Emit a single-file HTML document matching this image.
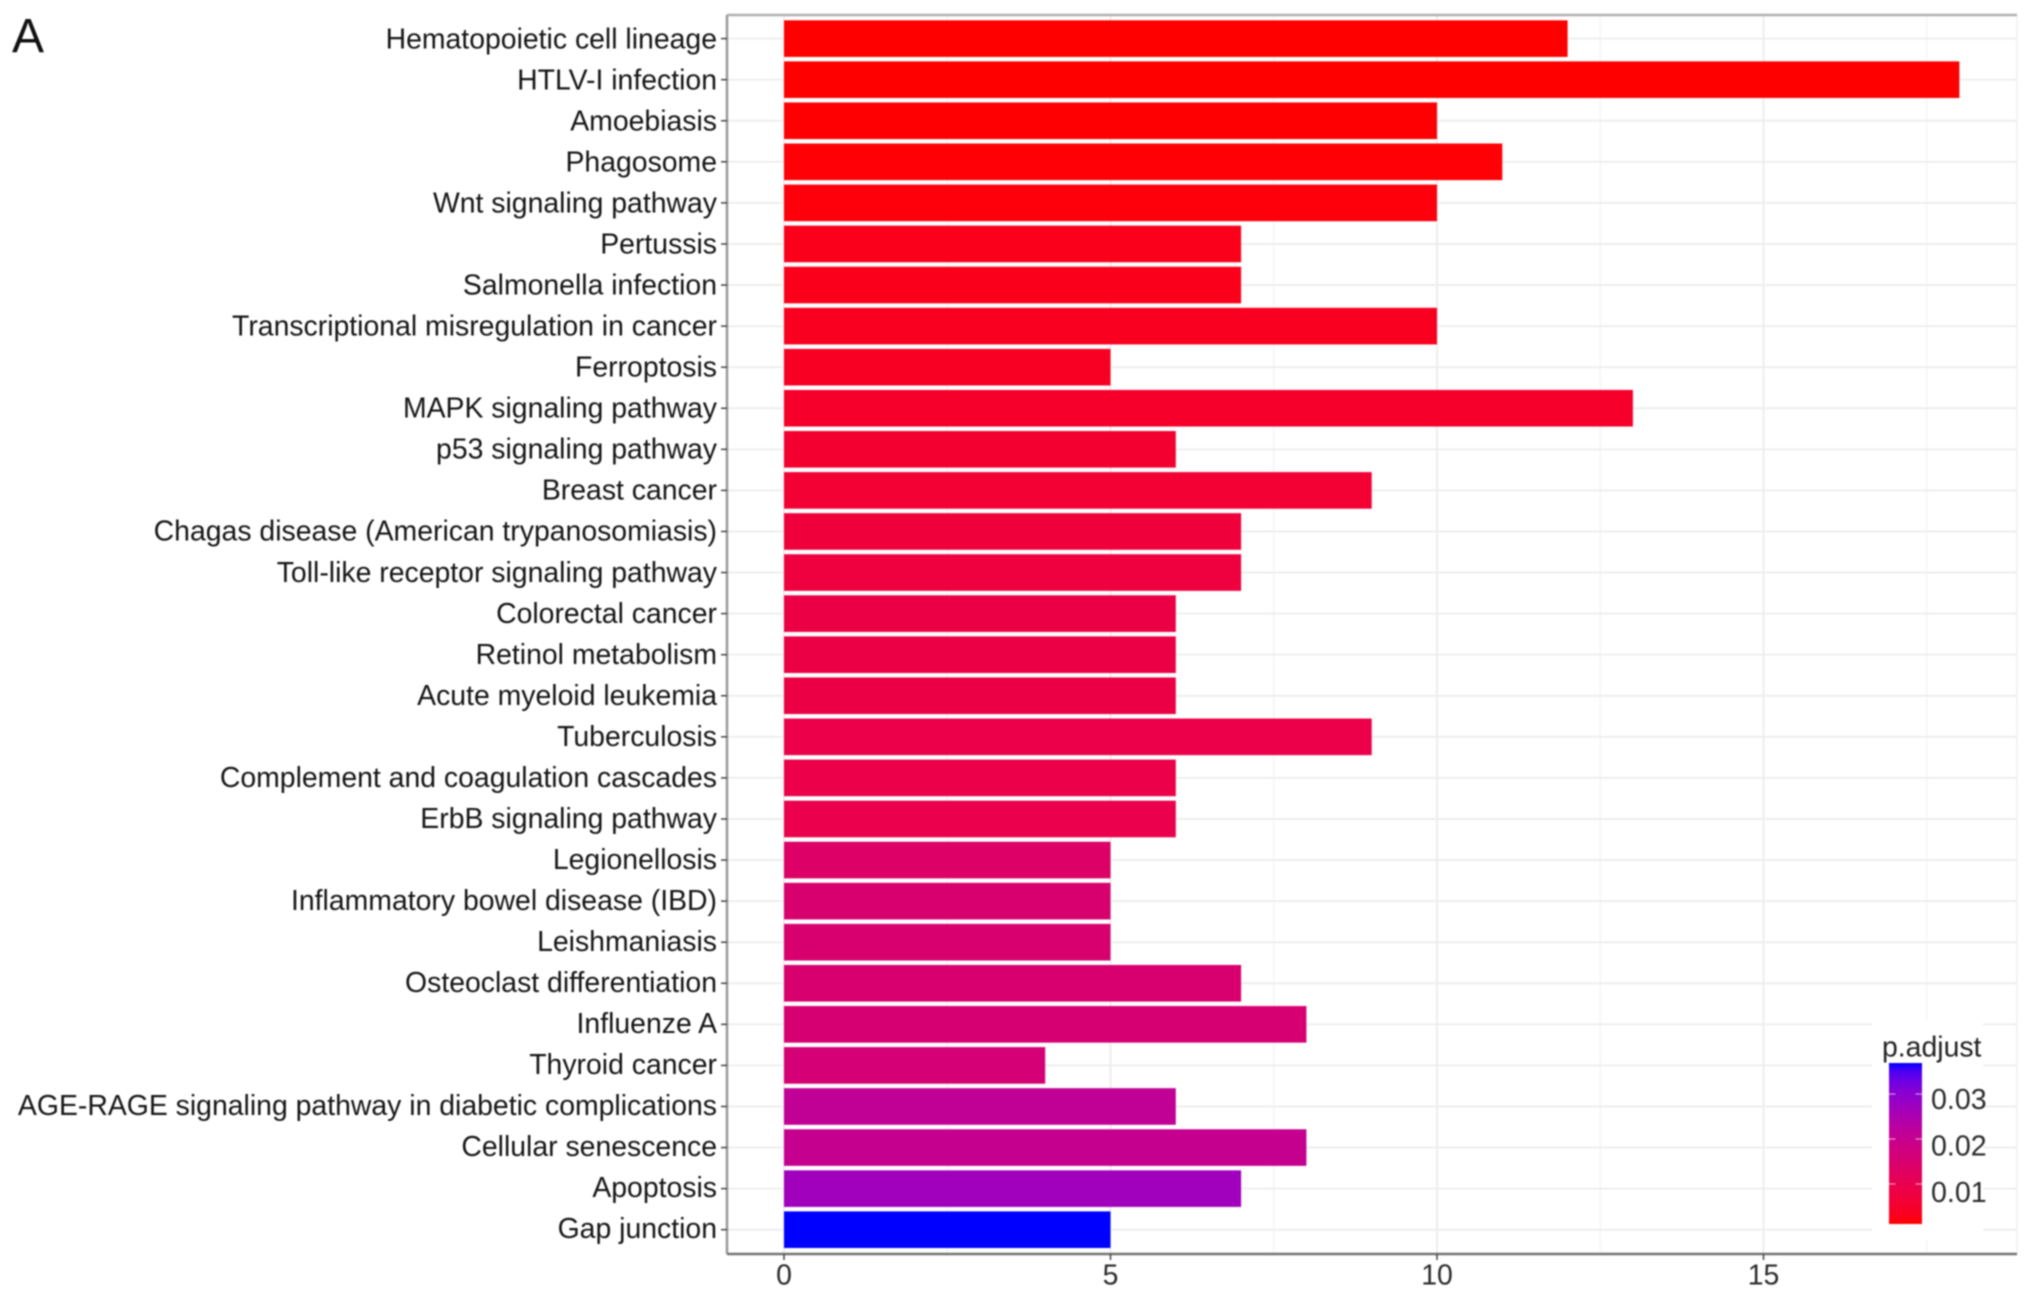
<!DOCTYPE html>
<html>
<head>
<meta charset="utf-8">
<title>KEGG enrichment bar chart</title>
<style>
html,body{margin:0;padding:0;background:#fff;width:2032px;height:1298px;overflow:hidden}
svg{display:block;filter:blur(0.85px)}
text{font-family:"Liberation Sans",Arial,sans-serif}
</style>
</head>
<body>
<svg id="chart" width="2032" height="1298" viewBox="0 0 2032 1298" xmlns="http://www.w3.org/2000/svg">
<defs><linearGradient id="legend-gradient" x1="0" y1="1" x2="0" y2="0"></linearGradient></defs>
<text x="12" y="52" font-size="48" fill="#111">A</text>
</svg>
<script>
var categories = ["Hematopoietic cell lineage","HTLV-I infection","Amoebiasis","Phagosome","Wnt signaling pathway","Pertussis","Salmonella infection","Transcriptional misregulation in cancer","Ferroptosis","MAPK signaling pathway","p53 signaling pathway","Breast cancer","Chagas disease (American trypanosomiasis)","Toll-like receptor signaling pathway","Colorectal cancer","Retinol metabolism","Acute myeloid leukemia","Tuberculosis","Complement and coagulation cascades","ErbB signaling pathway","Legionellosis","Inflammatory bowel disease (IBD)","Leishmaniasis","Osteoclast differentiation","Influenze A","Thyroid cancer","AGE-RAGE signaling pathway in diabetic complications","Cellular senescence","Apoptosis","Gap junction"];
var counts = [12,18,10,11,10,7,7,10,5,13,6,9,7,7,6,6,6,9,6,6,5,5,5,7,8,4,6,8,7,5];
var pAdjust = [0.0011,0.0011,0.0012,0.0014,0.0018,0.003,0.003,0.0035,0.004,0.0048,0.0055,0.006,0.007,0.0075,0.0085,0.0085,0.0085,0.009,0.009,0.0095,0.0135,0.015,0.015,0.015,0.0155,0.016,0.021,0.02,0.027,0.0369];
var xTicks = [0,5,10,15];
var xMinorTicks = [2.5,7.5,12.5,17.5];
var legendTicks = [0.01,0.02,0.03];
var legendLabels = ["0.01","0.02","0.03"];
var pMin = 0.0011;
var pMax = 0.0369;

var svg = document.getElementById('chart');
var NS = 'http://www.w3.org/2000/svg';
var panel = {left:727, right:2017, top:15, bottom:1254};
function xScale(v){ return 784 + v * 65.3; }
function yScale(i){ return 38.6 + i * (1229.7 - 38.6) / (categories.length - 1); }
function legendY(p){ return 1224 - (p - pMin) / (pMax - pMin) * 161; }
function make(tag, attrs, parent){
  var el = document.createElementNS(NS, tag);
  for (var k in attrs) el.setAttribute(k, attrs[k]);
  (parent || svg).appendChild(el);
  return el;
}
function rgb2lab(c){
  var r = c.map(function(v){ v/=255; return v>0.04045?Math.pow((v+0.055)/1.055,2.4):v/12.92; });
  var X=(0.4124*r[0]+0.3576*r[1]+0.1805*r[2])/0.95047, Y=0.2126*r[0]+0.7152*r[1]+0.0722*r[2], Z=(0.0193*r[0]+0.1192*r[1]+0.9505*r[2])/1.08883;
  var f=function(t){return t>0.008856?Math.cbrt(t):7.787*t+16/116;};
  return [116*f(Y)-16,500*(f(X)-f(Y)),200*(f(Y)-f(Z))];
}
function lab2hex(l){
  var fy=(l[0]+16)/116, fx=fy+l[1]/500, fz=fy-l[2]/200;
  var g=function(t){return t>0.2069?t*t*t:(t-16/116)/7.787;};
  var X=g(fx)*0.95047, Y=g(fy), Z=g(fz)*1.08883;
  var r=[3.2406*X-1.5372*Y-0.4986*Z,-0.9689*X+1.8758*Y+0.0415*Z,0.0557*X-0.204*Y+1.057*Z];
  return '#'+r.map(function(v){
    v=Math.max(0,Math.min(1,v));
    v=v>0.0031308?1.055*Math.pow(v,1/2.4)-0.055:12.92*v;
    var h=Math.round(v*255).toString(16);
    return h.length<2?'0'+h:h;
  }).join('');
}
var labLow = rgb2lab([255,0,0]);
var labHigh = rgb2lab([0,0,255]);
function fillScale(p){
  var t = Math.max(0, Math.min(1, (p - pMin) / (pMax - pMin)));
  return lab2hex([0,1,2].map(function(i){ return labLow[i] + (labHigh[i] - labLow[i]) * t; }));
}

// background grid
xMinorTicks.forEach(function(v){
  var el = make('line',{x1:xScale(v),x2:xScale(v),y1:panel.top,y2:panel.bottom,stroke:'#f4f4f4','stroke-width':1.2});
  
  
});
xTicks.forEach(function(v){
  var el = make('line',{x1:xScale(v),x2:xScale(v),y1:panel.top,y2:panel.bottom,stroke:'#eeeeee','stroke-width':2});
  
  
});
categories.forEach(function(c,i){
  var el = make('line',{x1:panel.left,x2:panel.right,y1:yScale(i),y2:yScale(i),stroke:'#eeeeee','stroke-width':2});
  
  
});

// bars
categories.forEach(function(c,i){
  var bar = make('rect',{x:xScale(0),y:yScale(i)-18.3,width:xScale(counts[i])-xScale(0),height:36.6,fill:fillScale(pAdjust[i])});
  
  
});

// panel border
var borderRight = make('line',{x1:panel.right,x2:panel.right,y1:panel.top,y2:panel.bottom,stroke:'#f1f1f1','stroke-width':1.5});


var borderTop = make('line',{x1:panel.left,x2:panel.right,y1:panel.top,y2:panel.top,stroke:'#b0b0b0','stroke-width':2.5});


var borderLeft = make('line',{x1:panel.left,x2:panel.left,y1:panel.top,y2:panel.bottom,stroke:'#9a9a9a','stroke-width':2.5});


var borderBottom = make('line',{x1:panel.left,x2:panel.right,y1:panel.bottom,y2:panel.bottom,stroke:'#737373','stroke-width':2.5});



// y axis ticks and labels
categories.forEach(function(c,i){
  var tick = make('line',{x1:panel.left-6,x2:panel.left,y1:yScale(i),y2:yScale(i),stroke:'#444','stroke-width':1.5});
  
  
  var label = make('text',{x:panel.left-10,y:yScale(i)+9.8-i*0.045,'text-anchor':'end','font-size':28.4,fill:'#151515'});
  label.textContent = c;
  
  
});

// x axis ticks and labels
xTicks.forEach(function(v){
  var tick = make('line',{x1:xScale(v),x2:xScale(v),y1:panel.bottom,y2:panel.bottom+6,stroke:'#444','stroke-width':1.5});
  
  
  var label = make('text',{x:xScale(v),y:1284.5,'text-anchor':'middle','font-size':28.4,fill:'#2a2a2a'});
  label.textContent = String(v);
  
  
});

// legend
var legendBg = make('rect',{x:1872,y:1020,width:111,height:220,fill:'#fff'});


var grad = document.getElementById('legend-gradient');
for (var s = 0; s <= 20; s++) {
  make('stop',{offset:(s*5)+'%','stop-color':fillScale(pMin+(pMax-pMin)*s/20)},grad);
}
var legendBar = make('rect',{x:1889,y:1063,width:33,height:161,fill:'url(#legend-gradient)'});


var legendTitle = make('text',{x:1882,y:1056.5,'font-size':28.4,fill:'#222'});
legendTitle.textContent = 'p.adjust';


legendTicks.forEach(function(p,i){
  var y = legendY(p);
  var left = make('line',{x1:1889,x2:1895.5,y1:y,y2:y,stroke:'#fff','stroke-opacity':0.6,'stroke-width':1.2});
  
  
  var right = make('line',{x1:1915.5,x2:1922,y1:y,y2:y,stroke:'#fff','stroke-opacity':0.6,'stroke-width':1.2});
  
  
  var label = make('text',{x:1931,y:y+18-i*1.5,'font-size':28.6,fill:'#2a2a2a'});
  label.textContent = legendLabels[i];
  
  
});
</script>
</body>
</html>
